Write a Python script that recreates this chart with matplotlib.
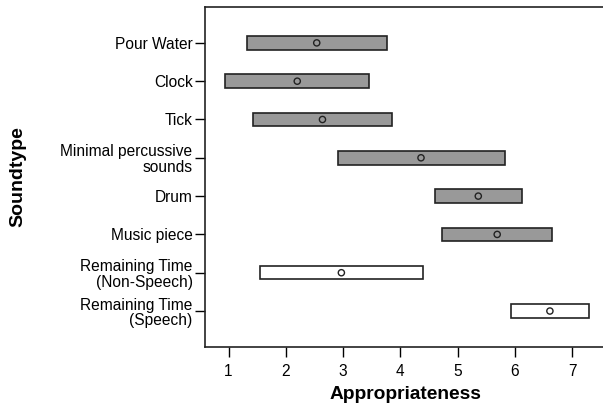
import numpy as np
import matplotlib.pyplot as plt

plt.rcParams['font.family'] = ['Liberation Sans', 'DejaVu Sans']

soundtypes = ["Pour Water", "Clock", "Tick", "Minimal percussive\nsounds", "Drum",
              "Music piece", "Remaining Time\n(Non-Speech)", "Remaining Time\n(Speech)"]
low = [1.33, 0.94, 1.42, 2.91, 4.61, 4.73, 1.55, 5.93]
high = [3.76, 3.46, 3.85, 5.82, 6.12, 6.65, 4.39, 7.29]
median = [2.54, 2.20, 2.64, 4.36, 5.36, 5.69, 2.97, 6.61]
fills = ["#999999"] * 6 + ["white"] * 2

fig = plt.figure(figsize=(6.03, 4.04), dpi=100)
ax = fig.add_axes([0.34, 0.141, 0.666, 0.842])

y = np.arange(len(soundtypes))
ax.barh(y, np.array(high) - np.array(low), left=low, height=0.35, color=fills,
        edgecolor="#222222", linewidth=1.2, zorder=2)
ax.scatter(median, y, s=20, facecolors="none", edgecolors="#222222", linewidths=1.0, zorder=3)

ax.set_yticks(y)
ax.set_yticklabels(soundtypes, fontsize=11.2, linespacing=1.05)
ax.set_ylim(7.94, -0.94)
ax.set_xticks(range(1, 8))
ax.set_xlim(0.59, 7.6)
ax.tick_params(axis="x", labelsize=11.2, length=7, width=1, pad=5)
ax.tick_params(axis="y", length=7, width=1, pad=2)
ax.spines["right"].set_visible(False)
for s in ["left", "bottom", "top"]:
    ax.spines[s].set_linewidth(1.2)
    ax.spines[s].set_color("#222222")

ax.set_xlabel("Appropriateness", fontsize=13.8, fontweight="bold", labelpad=5)
ax.set_ylabel("Soundtype", fontsize=14, fontweight="bold")
ax.yaxis.set_label_coords(-0.445, 0.5)

plt.savefig("out.png", dpi=100)
